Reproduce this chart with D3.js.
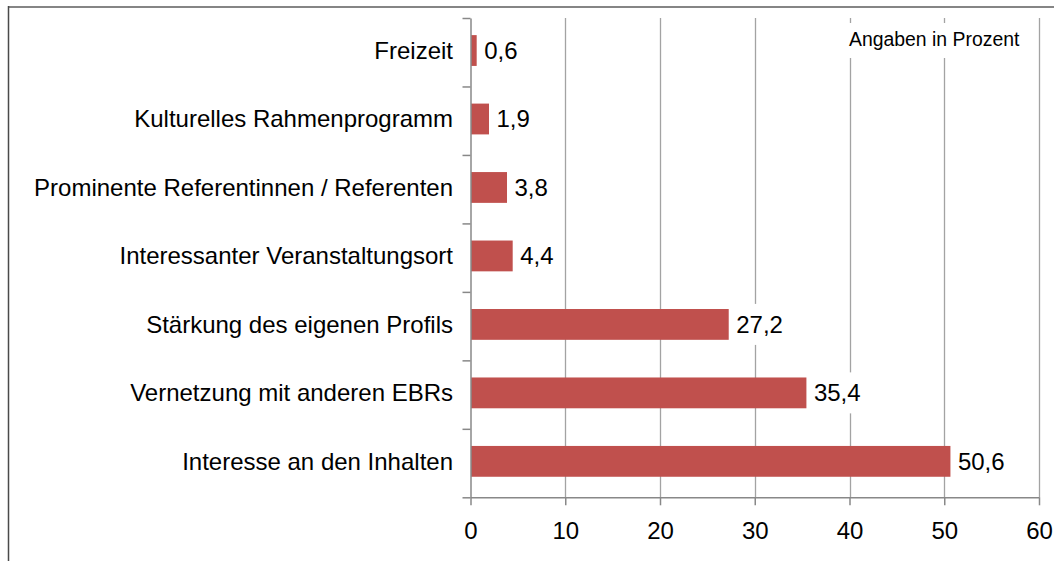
<!DOCTYPE html>
<html><head><meta charset="utf-8">
<script src="https://cdn.jsdelivr.net/npm/d3@7"></script>
<style>body{margin:0;background:#fff}svg{display:block}text{font-family:"Liberation Sans",Arial,sans-serif;fill:#000}</style>
</head><body>
<svg id="c" width="1054" height="561"></svg>
<script>
const categories = ["Freizeit","Kulturelles Rahmenprogramm","Prominente Referentinnen / Referenten","Interessanter Veranstaltungsort","Stärkung des eigenen Profils","Vernetzung mit anderen EBRs","Interesse an den Inhalten"];
const values = [0.6,1.9,3.8,4.4,27.2,35.4,50.6];
const xTicks = [0,10,20,30,40,50,60];
const note = "Angaben in Prozent";

const svg = d3.select("#c");
const x = d3.scaleLinear().domain([0,60]).range([470.5,1039]);
const y = d3.scaleBand().domain(categories).range([18,497.3]);
const yIdx = d3.scaleLinear().domain([0,categories.length]).range([18,497.3]);
const fmt = v => String(v).replace(".", ",");

// frame
svg.append("line").attr("x1",8).attr("x2",1054).attr("y1",7).attr("y2",7).attr("stroke","#858585").attr("stroke-width",2);
svg.append("line").attr("x1",8.5).attr("x2",8.5).attr("y1",6).attr("y2",561).attr("stroke","#4a4a4a").attr("stroke-width",1.5);

// gridlines
svg.append("g").selectAll("line").data(xTicks.slice(1)).join("line")
  .attr("x1",d=>Math.round(x(d))+0.5).attr("x2",d=>Math.round(x(d))+0.5)
  .attr("y1",18).attr("y2",497.3).attr("stroke","#a3a3a3").attr("stroke-width",1.3);

// note box
svg.append("rect").attr("x",843).attr("y",23).attr("width",184).attr("height",35).attr("fill","#fff");
svg.append("text").attr("x",849).attr("y",46).attr("font-size",19.4).text(note);

// bars
const bh = y.bandwidth()*0.45, boff = y.bandwidth()*0.25;
svg.append("g").selectAll("rect").data(values).join("rect")
  .attr("x",x(0)+0.5).attr("y",(d,i)=>y(categories[i])+boff)
  .attr("width",d=>x(d)-x(0)).attr("height",bh).attr("fill","#C0504D");

// value labels with white boxes
const lg = svg.append("g");
values.forEach((v,i)=>{
  const cy = y(categories[i])+boff+bh/2;
  const tx = x(v)+8;
  const t = lg.append("text").attr("x",tx).attr("y",cy+8.5).attr("font-size",24).text(fmt(v));
  const w = t.node().getComputedTextLength();
  lg.insert("rect","text").attr("x",tx-4).attr("y",cy-20.5).attr("width",w+9).attr("height",41).attr("fill","#fff");
});

// category labels
svg.append("g").selectAll("text").data(categories).join("text")
  .attr("x",453).attr("y",d=>y(d)+boff+bh/2+8.5).attr("text-anchor","end").attr("font-size",24).text(d=>d);

// left axis with ticks at band boundaries
const ax = svg.append("g").attr("transform","translate(470.5,0)")
  .call(d3.axisLeft(yIdx).tickValues(d3.range(categories.length+1)).tickSize(8).tickSizeOuter(0).tickFormat(""));
ax.select(".domain").attr("stroke","#888").attr("stroke-width",1.5);
ax.selectAll(".tick line").attr("stroke","#888").attr("stroke-width",1.5);

// bottom axis
const bx = svg.append("g").attr("transform","translate(0,497.3)")
  .call(d3.axisBottom(x).tickValues(xTicks).tickSize(8).tickSizeOuter(0).tickFormat(d=>d));
bx.select(".domain").attr("stroke","#888").attr("stroke-width",1.5);
bx.selectAll(".tick line").attr("stroke","#888").attr("stroke-width",1.5);
bx.selectAll(".tick text").attr("font-size",24).attr("font-family","Liberation Sans, Arial, sans-serif").attr("fill","#000").attr("y",24).attr("dy","0.71em").attr("dy",null).attr("y",42);
</script>
</body></html>
